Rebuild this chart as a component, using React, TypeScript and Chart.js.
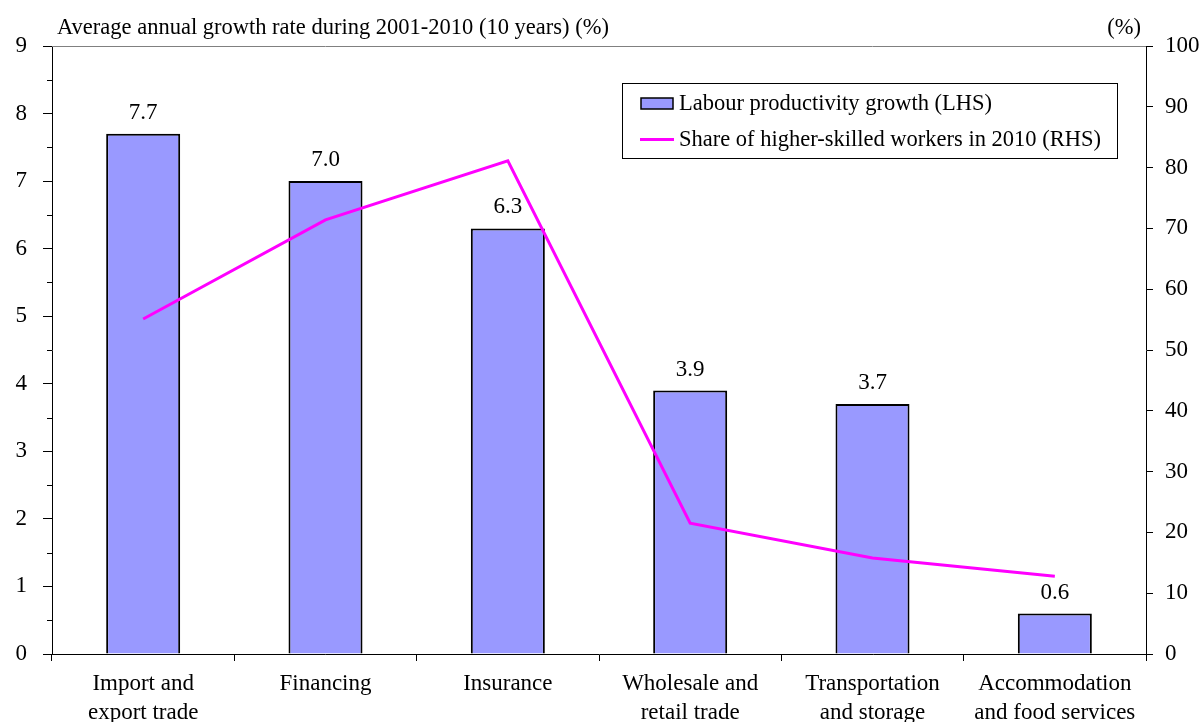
import React, { useEffect, useRef } from "react";
import { Chart, registerables } from "chart.js";

Chart.register(...registerables);

const categories: string[][] = [
  ["Import and", "export trade"],
  ["Financing"],
  ["Insurance"],
  ["Wholesale and", "retail trade"],
  ["Transportation", "and storage"],
  ["Accommodation", "and food services"],
];
const productivityGrowth = [7.7, 7.0, 6.3, 3.9, 3.7, 0.6];
const higherSkilledShare = [55.1, 71.4, 81.1, 21.5, 15.8, 12.8];
const leftTicks = [0, 1, 2, 3, 4, 5, 6, 7, 8, 9];
const rightTicks = [0, 10, 20, 30, 40, 50, 60, 70, 80, 90, 100];

const barLabel = "Labour productivity growth (LHS)";
const lineLabel = "Share of higher-skilled workers in 2010 (RHS)";
const leftTitle = "Average annual growth rate during 2001-2010 (10 years) (%)";
const rightTitle = "(%)";

const FONT = "'Liberation Serif', 'Times New Roman', serif";
const BAR_COLOR = "#9999FF";
const LINE_COLOR = "#FF00FF";

const decorPlugin = {
  id: "decor",
  afterDraw(chart: any) {
    const ctx = chart.ctx as CanvasRenderingContext2D;
    const area = chart.chartArea;
    const y = chart.scales.y;
    ctx.save();
    // top border
    ctx.strokeStyle = "#808080";
    ctx.lineWidth = 1;
    ctx.beginPath();
    ctx.moveTo(area.left, Math.round(area.top) + 0.5);
    ctx.lineTo(area.right, Math.round(area.top) + 0.5);
    ctx.stroke();
    // minor ticks on left axis
    ctx.strokeStyle = "#000";
    for (let v = 0.5; v < 9; v += 1) {
      const py = Math.round(y.getPixelForValue(v)) + 0.5;
      ctx.beginPath();
      ctx.moveTo(area.left - 5, py);
      ctx.lineTo(area.left, py);
      ctx.stroke();
    }
    // axis titles
    ctx.fillStyle = "#000";
    ctx.font = `22.5px ${FONT}`;
    ctx.textBaseline = "middle";
    ctx.textAlign = "left";
    ctx.fillText(leftTitle, 57, 28);
    ctx.textAlign = "right";
    ctx.fillText(rightTitle, 1141, 28);
    // data labels
    const meta = chart.getDatasetMeta(0);
    ctx.textAlign = "center";
    ctx.font = `23px ${FONT}`;
    meta.data.forEach((el: any, i: number) => {
      ctx.fillText(productivityGrowth[i].toFixed(1), el.x, el.y - 21);
    });
    // legend
    ctx.strokeStyle = "#000";
    ctx.lineWidth = 1;
    ctx.strokeRect(622.5, 83.5, 495, 75);
    ctx.fillStyle = BAR_COLOR;
    ctx.fillRect(641, 98, 32, 11);
    ctx.lineWidth = 1.5;
    ctx.strokeRect(641, 98, 32, 11);
    ctx.strokeStyle = LINE_COLOR;
    ctx.lineWidth = 3;
    ctx.beginPath();
    ctx.moveTo(640, 139.5);
    ctx.lineTo(674, 139.5);
    ctx.stroke();
    ctx.fillStyle = "#000";
    ctx.textAlign = "left";
    ctx.font = `22.5px ${FONT}`;
    ctx.fillText(barLabel, 679, 104);
    ctx.fillText(lineLabel, 679, 140);
    ctx.restore();
  },
};

export default function App() {
  const ref = useRef<HTMLCanvasElement | null>(null);
  useEffect(() => {
    if (!ref.current) return;
    const chart = new Chart(ref.current, {
      type: "bar",
      data: {
        labels: categories,
        datasets: [
          {
            type: "bar",
            label: barLabel,
            data: productivityGrowth,
            backgroundColor: BAR_COLOR,
            borderColor: "#000",
            borderWidth: 2,
            barPercentage: 0.406,
            categoryPercentage: 1,
            yAxisID: "y",
            order: 1,
          },
          {
            type: "line",
            label: lineLabel,
            data: higherSkilledShare,
            borderColor: LINE_COLOR,
            backgroundColor: LINE_COLOR,
            borderWidth: 3,
            pointRadius: 0,
            tension: 0,
            yAxisID: "y1",
            order: 0,
          },
        ],
      },
      options: {
        responsive: false,
        animation: false,
        layout: { padding: { top: 46, left: 0, right: 0, bottom: 0 } },
        plugins: { legend: { display: false }, tooltip: { enabled: false } },
        scales: {
          x: {
            offset: true,
            grid: {
              offset: true,
              drawOnChartArea: false,
              drawTicks: true,
              tickLength: 7,
              color: "#000",
            },
            border: { color: "#000", width: 1 },
            ticks: {
              color: "#000",
              font: { family: FONT, size: 23, lineHeight: 1.25 },
              padding: 9,
              maxRotation: 0,
              autoSkip: false,
            },
            afterFit(scale: any) {
              scale.height = 68;
            },
          },
          y: {
            position: "left",
            min: 0,
            max: 9,
            afterBuildTicks(scale: any) {
              scale.ticks = leftTicks.map((v) => ({ value: v }));
            },
            grid: { drawOnChartArea: false, tickLength: 9, color: "#000" },
            border: { color: "#000", width: 1 },
            ticks: {
              color: "#000",
              font: { family: FONT, size: 23 },
              padding: 16,
              callback: (v: any) => String(v),
            },
            afterFit(scale: any) {
              scale.width = 52;
            },
          },
          y1: {
            position: "right",
            min: 0,
            max: 100,
            afterBuildTicks(scale: any) {
              scale.ticks = rightTicks.map((v) => ({ value: v }));
            },
            grid: { drawOnChartArea: false, tickLength: 7, color: "#000" },
            border: { color: "#000", width: 1 },
            ticks: {
              color: "#000",
              font: { family: FONT, size: 23 },
              padding: 12,
              callback: (v: any) => String(v),
            },
            afterFit(scale: any) {
              scale.width = 55;
            },
          },
        },
      },
      plugins: [decorPlugin],
    });
    return () => chart.destroy();
  }, []);
  return (
    <div style={{ position: "absolute", left: 0, top: 0, width: 1201, height: 722, background: "#fff" }}>
      <canvas ref={ref} width={1201} height={722} style={{ display: "block" }} />
    </div>
  );
}
